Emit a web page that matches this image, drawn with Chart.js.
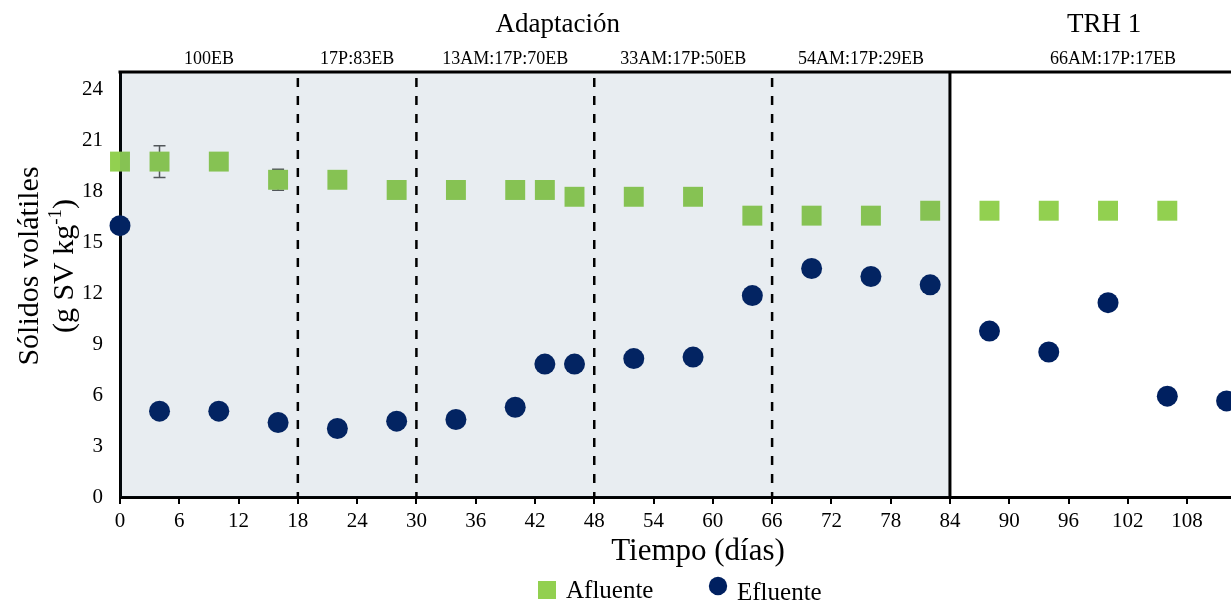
<!DOCTYPE html>
<html>
<head>
<meta charset="utf-8">
<script src="https://cdn.jsdelivr.net/npm/chart.js@4"></script>
<style>
  html, body { margin: 0; padding: 0; overflow: hidden; background: #fff; }
  canvas { display: block; }
</style>
</head>
<body>
<canvas id="grafico" width="1276" height="603"></canvas>
<script>
// Días de muestreo y sólidos volátiles (g SV/kg)
const dias = [0, 4, 10, 16, 22, 28, 34, 40, 43, 46, 52, 58, 64, 70, 76, 82, 88, 94, 100, 106];
const afluente = [19.73, 19.73, 19.73, 18.66, 18.66, 18.06, 18.06, 18.06, 18.06, 17.66, 17.66, 17.66,
  16.55, 16.55, 16.55, 16.84, 16.84, 16.84, 16.84, 16.84];
const errorAfluente = [0, 0.93, 0, 0.62, 0, 0, 0, 0, 0, 0, 0, 0, 0, 0, 0, 0, 0, 0, 0, 0];

const diasEfluente = [0, 4, 10, 16, 22, 28, 34, 40, 43, 46, 52, 58, 64, 70, 76, 82, 88, 94, 100, 106, 112];
const efluente = [15.96, 5.05, 5.05, 4.38, 4.03, 4.46, 4.56, 5.28, 7.82, 7.82, 8.14, 8.23,
  11.85, 13.44, 12.97, 12.48, 9.76, 8.53, 11.43, 5.93, 5.65];

// Mezclas de alimentación y etapas
const limitesFase = [0, 18, 30, 48, 66, 84, 117];
const fases = ['100EB', '17P:83EB', '13AM:17P:70EB', '33AM:17P:50EB', '54AM:17P:29EB', '66AM:17P:17EB'];
const etapas = ['Adaptación', 'TRH 1'];
const finAdaptacion = 84;

const ticksX = [0, 6, 12, 18, 24, 30, 36, 42, 48, 54, 60, 66, 72, 78, 84, 90, 96, 102, 108, 114];
const ticksY = [0, 3, 6, 9, 12, 15, 18, 21, 24];

const fuente = "'Liberation Serif', 'Times New Roman', serif";
Chart.defaults.font.family = fuente;
Chart.defaults.color = '#000';

const verde = '#92D050';
const azul = '#002060';

const marcoFases = {
  id: 'marcoFases',
  beforeDatasetsDraw(chart) {
    const { ctx, scales: { x, y } } = chart;
    ctx.save();
    ctx.strokeStyle = '#595959';
    ctx.lineWidth = 1.5;
    dias.forEach((d, i) => {
      const e = errorAfluente[i];
      if (!e) return;
      const px = x.getPixelForValue(d);
      const y1 = y.getPixelForValue(afluente[i] + e);
      const y2 = y.getPixelForValue(afluente[i] - e);
      ctx.beginPath();
      ctx.moveTo(px, y1); ctx.lineTo(px, y2);
      ctx.moveTo(px - 6, y1); ctx.lineTo(px + 6, y1);
      ctx.moveTo(px - 6, y2); ctx.lineTo(px + 6, y2);
      ctx.stroke();
    });
    ctx.restore();
  },
  afterDatasetsDraw(chart) {
    const { ctx, chartArea: { left, right, top, bottom }, scales: { x } } = chart;
    const xFin = x.getPixelForValue(finAdaptacion);
    ctx.save();
    // sombreado de la etapa de adaptación
    ctx.fillStyle = 'rgba(31, 78, 121, 0.1)';
    ctx.fillRect(left, top, xFin - left, bottom - top);

    // cambios de mezcla
    ctx.strokeStyle = '#000';
    ctx.lineWidth = 2.5;
    ctx.setLineDash([9, 9]);
    limitesFase.slice(1, -2).forEach(d => {
      const px = x.getPixelForValue(d);
      ctx.beginPath();
      ctx.moveTo(px, top + 6);
      ctx.lineTo(px, bottom);
      ctx.stroke();
    });
    ctx.setLineDash([]);

    ctx.lineWidth = 3;
    ctx.beginPath();
    ctx.moveTo(xFin, top);
    ctx.lineTo(xFin, bottom);
    ctx.moveTo(left - 1.5, top);
    ctx.lineTo(right, top);
    ctx.stroke();
    ctx.restore();
  },
  afterDraw(chart, args, opts) {
    const { ctx, scales: { x } } = chart;
    ctx.save();
    ctx.fillStyle = '#000';
    ctx.textAlign = 'center';
    ctx.textBaseline = 'alphabetic';

    ctx.font = '27px ' + fuente;
    etapas.forEach((t, i) => ctx.fillText(t, x.getPixelForValue(opts.centrosEtapa[i]), 32));

    ctx.font = '18px ' + fuente;
    fases.forEach((t, i) => {
      const medio = (limitesFase[i] + limitesFase[i + 1]) / 2;
      ctx.fillText(t, x.getPixelForValue(medio), 64);
    });

    // título del eje Y (dos líneas, giradas)
    ctx.textBaseline = 'middle';
    ctx.save();
    ctx.translate(30, 266);
    ctx.rotate(-Math.PI / 2);
    ctx.font = '30px ' + fuente;
    ctx.fillText('Sólidos volátiles', 0, 0);
    ctx.restore();

    ctx.save();
    ctx.translate(65, 266);
    ctx.rotate(-Math.PI / 2);
    ctx.textAlign = 'left';
    ctx.font = '30px ' + fuente;
    const a = '(g SV kg', b = '-1', c = ')';
    const wa = ctx.measureText(a).width, wc = ctx.measureText(c).width;
    ctx.font = '19px ' + fuente;
    const wb = ctx.measureText(b).width;
    let cx = -(wa + wb + wc) / 2;
    ctx.font = '30px ' + fuente;
    ctx.fillText(a, cx, 0);
    ctx.font = '19px ' + fuente;
    ctx.fillText(b, cx + wa, -9);
    ctx.font = '30px ' + fuente;
    ctx.fillText(c, cx + wa + wb, 0);
    ctx.restore();

    // leyenda
    ctx.textAlign = 'left';
    ctx.font = '25px ' + fuente;
    ctx.fillStyle = verde;
    ctx.fillRect(538, 581, 18, 18);
    ctx.fillStyle = '#000';
    ctx.fillText(chart.data.datasets[0].label, 566, 591);
    ctx.fillStyle = azul;
    ctx.beginPath();
    ctx.arc(718, 586, 9.2, 0, Math.PI * 2);
    ctx.fill();
    ctx.fillStyle = '#000';
    ctx.fillText(chart.data.datasets[1].label, 737, 593);
    ctx.restore();
  }
};

new Chart(document.getElementById('grafico'), {
  type: 'scatter',
  data: {
    datasets: [
      {
        label: 'Afluente',
        data: dias.map((d, i) => ({ x: d, y: afluente[i] })),
        pointStyle: 'rect',
        pointRadius: 14.1,
        pointHoverRadius: 14.1,
        backgroundColor: verde,
        borderWidth: 0,
        clip: false
      },
      {
        label: 'Efluente',
        data: diasEfluente.map((d, i) => ({ x: d, y: efluente[i] })),
        pointStyle: 'circle',
        pointRadius: 10.5,
        pointHoverRadius: 10.5,
        backgroundColor: azul,
        borderWidth: 0,
        clip: false
      }
    ]
  },
  options: {
    responsive: false,
    animation: false,
    events: [],
    layout: { autoPadding: false, padding: { top: 72, bottom: 33, left: 0, right: 0 } },
    plugins: {
      legend: { display: false },
      tooltip: { enabled: false },
      marcoFases: { centrosEtapa: [44.3, 99.6] }
    },
    scales: {
      x: {
        type: 'linear',
        min: 0,
        max: 117,
        afterBuildTicks: s => { s.ticks = ticksX.map(v => ({ value: v })); },
        afterFit: s => { s.height = 73; },
        ticks: { color: '#000', font: { size: 21 }, padding: 5, maxRotation: 0, autoSkip: false },
        grid: { drawOnChartArea: false, drawTicks: true, tickLength: 7, color: '#000', lineWidth: 2 },
        border: { color: '#000', width: 3 },
        title: { display: true, text: 'Tiempo (días)', color: '#000', font: { size: 31 }, padding: 0 }
      },
      y: {
        min: 0,
        max: 25,
        afterBuildTicks: s => { s.ticks = ticksY.map(v => ({ value: v })); },
        afterFit: s => { s.width = 120; },
        ticks: { color: '#000', font: { size: 21 }, padding: 9 },
        grid: { display: false },
        border: { color: '#000', width: 3 }
      }
    }
  },
  plugins: [marcoFases]
});
</script>
</body>
</html>
